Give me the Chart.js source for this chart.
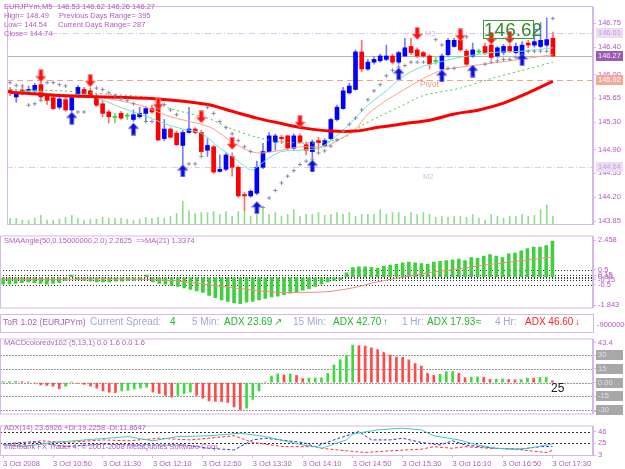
<!DOCTYPE html>
<html lang="en">
<head>
<meta charset="UTF-8">
<title>EURJPYm,M5</title>
<style>
  body { margin: 0; width: 625px; height: 469px; position: relative; overflow: hidden; background: #fff; font-family: "Liberation Sans", Arial, sans-serif; }
  canvas { position: absolute; left: 0; }
  .t { position: absolute; white-space: pre; font-size: 7.5px; line-height: 9px; color: #b05cc0; }
  .b { position: absolute; white-space: pre; font-size: 10px; line-height: 12px; }
</style>
<script src="https://cdn.jsdelivr.net/npm/chart.js@4.4.0/dist/chart.umd.min.js"></script>
</head>
<body>
<canvas id="cMain" width="625" height="231" style="top:0"></canvas>
<canvas id="cSma" width="625" height="84" style="top:230px"></canvas>
<canvas id="cMacd" width="625" height="87" style="top:333px"></canvas>
<canvas id="cAdx" width="625" height="49" style="top:420px"></canvas>

<div class="t" style="left:4px;top:2px">EURJPYm,M5</div>
<div class="t" style="left:57px;top:2px">146.53 146.62 146.26 146.27</div>
<div class="t" style="left:4px;top:11px">High= 148.49</div>
<div class="t" style="left:59px;top:11px">Previous Days Range= 395</div>
<div class="t" style="left:4px;top:20px">Low= 144.54</div>
<div class="t" style="left:58px;top:20px">Current Days Range= 287</div>
<div class="t" style="left:4px;top:29px">Close= 144.74</div>

<div class="t" style="left:425px;top:29px;color:#d8bce6">M3</div>
<div class="t" style="left:420px;top:80px;color:#f29a86;font-size:8.5px">Pivot</div>
<div class="t" style="left:423px;top:172px;color:#d8bce6">M2</div>
<div style="position:absolute;left:483px;top:20px;width:49px;height:17px;border:1px solid #3c9a3c;color:#2f8f2f;font-size:19px;line-height:18px;text-align:center">146.62</div>
<div style="position:absolute;left:533px;top:29px;width:8px;height:1px;background:#3c9a3c"></div>

<div class="t" style="left:4px;top:236px">SMAAngle(50,0.15000000,2.0) 2.2625  =&gt;MA(21) 1.3374</div>

<div style="position:absolute;left:0;top:314px;width:592px;height:17px;border:1px solid #d6b8e6"></div>
<div class="b" style="left:3px;top:316px;color:#a65cb8;font-size:8.5px">ToR 1.02 (EURJPYm)</div>
<div class="b" style="left:90px;top:316px;color:#9fa8d8">Current Spread:</div>
<div class="b" style="left:170px;top:316px;color:#22b822">4</div>
<div class="b" style="left:192px;top:316px;color:#9fa8d8">5 Min:</div>
<div class="b" style="left:224px;top:316px;color:#22b822">ADX 23.69</div>
<div class="b" style="left:274px;top:316px;color:#22b822">↗</div>
<div class="b" style="left:293px;top:316px;color:#9fa8d8">15 Min:</div>
<div class="b" style="left:333px;top:316px;color:#22b822">ADX 42.70</div>
<div class="b" style="left:383px;top:316px;color:#22b822">↑</div>
<div class="b" style="left:402px;top:316px;color:#9fa8d8">1 Hr:</div>
<div class="b" style="left:427px;top:316px;color:#22b822">ADX 17.93</div>
<div class="b" style="left:476px;top:316px;color:#22b822">≈</div>
<div class="b" style="left:495px;top:316px;color:#9fa8d8">4 Hr:</div>
<div class="b" style="left:525px;top:316px;color:#ff2020">ADX 46.60</div>
<div class="b" style="left:575px;top:316px;color:#ff2020">↓</div>
<div class="t" style="left:597px;top:320px">-9000000</div>

<div class="t" style="left:4px;top:338px">MACDcoloredv102 (5,13,1) 0.0 1.6 0.0 1.6</div>
<div class="b" style="left:551px;top:382px;color:#202020;font-size:12px">25</div>

<div class="t" style="left:4px;top:423px">ADX(14) 23.6926 +DI:19.2258 -DI:11.8647</div>
<div class="t" style="left:4px;top:442px">Interbank FX Trader 4, © 2001-2008 MetaQuotes Software Corp.</div>

<script>
// ---- price bars (3 Oct 2008, 5 minute bars from 10:10 to 17:30) ----
const opens  = [145.77,145.67,145.77,145.76,145.76,145.85,145.69,145.66,145.52,145.63,
                145.48,145.69,145.78,145.76,145.66,145.57,145.45,145.38,145.43,145.39,
                145.34,145.38,145.43,145.50,145.52,145.06,145.20,145.14,144.96,145.15,
                145.20,145.15,144.89,144.94,144.58,144.61,144.80,144.64,144.24,144.22,
                144.26,144.64,144.87,145.01,145.08,145.10,144.92,145.10,144.97,144.87,
                145.03,144.96,145.06,145.34,145.50,145.73,145.78,146.33,146.08,146.18,
                146.20,146.22,146.27,146.18,146.27,146.41,146.36,146.32,146.27,146.20,
                146.08,146.29,146.41,146.50,146.34,146.27,146.34,146.41,146.43,146.27,
                146.32,146.41,146.32,146.29,146.46,146.43,146.41,146.43,146.53];
const highs  = [145.81,145.76,145.81,145.83,145.87,145.90,145.71,145.69,145.67,145.66,
                145.69,145.84,145.81,145.80,145.71,145.62,145.48,145.43,145.46,145.43,
                145.48,145.52,145.53,145.55,145.53,145.34,145.22,145.17,145.18,145.52,
                145.22,145.18,145.06,144.96,144.82,144.85,144.85,144.66,144.27,144.31,
                144.73,144.99,145.15,145.13,145.11,145.11,145.13,145.13,145.01,145.04,
                145.08,145.06,145.36,145.55,145.81,145.87,146.36,146.50,146.22,146.26,
                146.30,146.43,146.30,146.34,146.53,146.53,146.39,146.34,146.29,146.25,
                146.30,146.53,146.53,146.53,146.37,146.46,146.37,146.46,146.57,146.41,
                146.44,146.44,146.46,146.48,146.50,146.71,146.76,146.83,146.62];
const lows   = [145.69,145.59,145.70,145.73,145.73,145.64,145.56,145.48,145.49,145.46,
                145.45,145.66,145.69,145.66,145.53,145.38,145.29,145.29,145.34,145.34,
                145.31,145.36,145.32,145.43,145.03,145.03,145.07,144.96,144.68,145.14,
                145.13,144.83,144.80,144.55,144.57,144.59,144.51,144.20,144.01,144.20,
                144.24,144.62,144.86,144.89,144.99,144.90,144.90,144.99,144.82,144.78,
                144.89,144.94,145.04,145.32,145.49,145.71,145.77,146.04,146.06,146.15,
                146.18,146.20,146.15,146.15,146.26,146.29,146.25,146.25,146.08,146.15,
                146.06,146.26,146.40,146.34,146.13,146.25,146.30,146.29,146.22,146.25,
                146.29,146.32,146.30,146.27,146.39,146.40,146.39,146.40,146.26];
const closes = [145.73,145.73,145.74,145.78,145.84,145.67,145.62,145.50,145.64,145.48,
                145.66,145.81,145.71,145.69,145.55,145.43,145.38,145.37,145.36,145.39,
                145.41,145.43,145.50,145.45,145.04,145.20,145.08,144.97,145.15,145.20,
                145.15,144.87,144.96,144.57,144.61,144.82,144.64,144.22,144.22,144.29,
                144.64,144.87,145.10,145.10,145.06,144.92,145.10,145.01,144.89,145.01,
                145.00,145.03,145.34,145.52,145.76,145.83,146.33,146.08,146.18,146.22,
                146.27,146.27,146.18,146.32,146.39,146.32,146.27,146.27,146.15,146.19,
                146.27,146.50,146.50,146.36,146.15,146.36,146.33,146.32,146.25,146.39,
                146.41,146.34,146.41,146.43,146.43,146.48,146.50,146.51,146.27];
const volumes = [60,60,40,40,60,90,40,40,50,70, 90,60,40,50,50,70,60,60,60,50,
                 40,50,70,60,70,60,80,110,240,140, 110,120,120,130,100,130,80,130,150,80,
                 120,150,100,120,80,100,150,80,100,100, 120,90,100,120,100,120,80,100,100,100,
                 150,100,120,120,80,120,100,120,100,70, 80,70,80,80,70,100,60,40,100,80,
                 60,80,80,100,80,90,150,200,80];

// moving averages on the price chart, read at these bar indices
const maSlowIdx = [0,8,16,24,32,36,40,44,48,52,56,60,64,68,72,76,80,84,88];
const maSlowVal = [145.74,145.69,145.67,145.64,145.56,145.46,145.36,145.28,145.21,145.17,145.17,145.23,145.28,145.33,145.42,145.48,145.58,145.73,145.90];
const maFastIdx = [0,4,8,12,14,19,22,25,28,31,34,36,39,40,42,44,47,50,52,55,58,61,63,65,67,70,73,78,83,88];
const maFastVal = [145.73,145.76,145.69,145.71,145.66,145.48,145.39,145.28,145.20,145.14,144.92,144.80,144.60,144.64,144.78,144.87,144.89,144.92,145.03,145.27,145.55,145.76,145.92,146.04,146.12,146.19,146.25,146.32,146.34,146.39];
const maMidIdx  = [0,8,14,21,26,31,33,36,39,41,44,47,51,53,56,58,61,63,67,70,75,81,88];
const maMidVal  = [145.74,145.71,145.67,145.55,145.38,145.27,145.20,145.01,144.87,144.85,144.89,144.94,144.94,145.03,145.20,145.42,145.62,145.73,145.94,146.06,146.13,146.20,146.29];
const maDashIdx = [0,8,16,22,26,32,36,40,44,50,54,57,60,63,67,73,78,83,88];
const maDashVal = [145.78,145.76,145.71,145.66,145.50,145.36,145.20,145.08,145.01,145.00,145.07,145.25,145.39,145.52,145.69,145.80,145.94,146.06,146.18];

const sar = [145.88,145.84,145.83,145.55,145.57,145.62,145.88,145.88,145.85,145.83,
             null,145.45,145.45,145.84,145.80,145.78,145.73,145.69,145.64,145.62,
             145.57,null,145.31,145.31,145.62,145.56,145.48,145.41,null,144.69,
             144.69,144.80,145.52,145.43,145.31,145.22,145.13,145.03,144.94,144.87,
             144.05,144.05,144.19,144.30,144.41,144.51,144.59,144.68,144.73,144.76,
             144.85,144.88,144.95,145.04,145.17,145.27,145.36,145.48,145.63,145.76,
             145.85,145.98,146.06,146.11,146.13,146.18,146.18,146.18,null,146.51,
             146.43,146.09,146.09,146.56,146.55,null,null,146.15,146.18,146.20,
             146.22,146.22,146.25,null,146.34,146.34,146.34,146.34,146.82];

const sellIdx = [5,13,24,31,36,47,66,73,78,81];
const sellVal = [145.98,145.91,145.57,145.38,144.99,145.31,146.60,146.58,146.53,146.54];
const buyIdx  = [10,20,28,40,49,63,70,75,83];
const buyVal  = [145.36,145.20,144.59,144.05,144.66,146.01,145.98,146.05,146.22];

const priceTicks = [146.75,146.40,146.00,145.65,145.30,144.90,144.55,144.20,143.85];
const priceLevels = { m3: 146.61, bid: 146.27, pivot: 145.92, m2: 144.64 };

// ---- SMAAngle window ----
const smaAngle = [-0.45,-0.45,-0.4,-0.35,-0.3,-0.35,-0.4,-0.45,-0.4,-0.35,
                  -0.2,0.15,-0.15,-0.2,-0.25,-0.3,-0.3,-0.3,-0.25,-0.25,
                  -0.2,-0.2,-0.15,0.15,-0.3,-0.4,-0.45,-0.55,-0.6,-0.7,
                  -0.8,-0.9,-1.0,-1.2,-1.35,-1.5,-1.6,-1.7,-1.75,-1.65,
                  -1.6,-1.5,-1.4,-1.3,-1.25,-1.15,-1.05,-0.95,-0.85,-0.75,
                  -0.6,-0.45,-0.3,-0.2,-0.15,0.3,0.65,0.7,0.7,0.65,
                  0.6,0.75,0.8,0.85,0.95,1.0,0.95,0.9,0.85,1.0,
                  1.05,1.1,1.15,1.2,1.1,1.3,1.25,1.4,1.5,1.4,
                  1.3,1.55,1.6,1.75,1.9,2.0,2.0,2.1,2.4];
const smaMaIdx = [0,8,16,24,28,32,36,40,44,48,52,56,60,64,68,72,76,80,84,88];
const smaMaVal = [-0.15,-0.15,-0.1,-0.15,-0.25,-0.45,-0.65,-0.85,-1.0,-1.0,-0.95,-0.7,-0.3,0.0,0.3,0.5,0.75,0.95,1.15,1.34];
const smaTickVals = [2.458,0.5,0.15,0,-0.15,-0.5,-1.843];
const smaTickText = ['2.458','0.5','0.15','0.00','-0.15','-0.5','-1.843'];
const smaLevels = [0.5,0.15,0.05,-0.05,-0.15,-0.5];

// ---- MACD window ----
const macd = [1.0,1.2,1.5,1.0,0.5,-1,-2.5,-3,-4,-7,
              -4,0.5,-1,-2,-4,-6,-9,-10.5,-11,-9,
              -8.5,-7,-6,-5,-10.5,-12,-14,-16,-14,-12,
              -10.5,-14,-17,-20,-20.5,-21,-22,-26.5,-30,-28,
              -18.5,-9,0.5,7,9.6,8.6,9.6,8.0,4.5,4.8,
              5.0,5.2,10,19,25,30,41,40.5,40,38,
              36,33,30,28,27.5,25,21,18,10,8,
              9,12,12.2,10,5.5,6,6.3,6,3.5,3.8,
              4.0,3.5,3.0,3.4,5.0,4.8,5.8,6.0,2.0];
const macdTickVals = [43.4,30,15,0,-15,-30,-31.8];
const macdTickText = ['43.4','30','15','0.00','-15','-30','-31.8'];
const macdLevels = [30,15,0,-15,-30];

// ---- ADX window ----
const adxIdx = [0,3,5,8,20,24,28,33,38,42,48,50,51,55,56,60,64,67,69,73,76,79,82,84,88];
const adxVal = [23.5,18.8,21.9,26.5,37.3,29.6,37.3,38.8,43.5,37.3,21.9,18.8,15.8,31.2,42,49.6,52.7,49.6,38.8,31.2,21.9,15.8,14.2,15.8,23.69];
const pdiIdx = [0,3,5,10,16,21,29,33,37,40,42,48,50,53,57,59,62,64,67,70,72,74,79,83,86,88];
const pdiVal = [23.5,26.5,28,18.8,23.5,21.9,21.9,15.8,12.7,31.2,34.2,26.5,18.8,31.2,46.5,31.2,31.2,34.2,26.5,21.9,29.6,21.9,15.8,14.2,18.8,19.23];
const mdiIdx = [0,3,6,10,16,20,25,30,37,40,45,50,51,55,58,62,67,69,72,74,78,82,87,88];
const mdiVal = [21.9,21.9,29.6,26.5,31.2,29.6,34.2,31.2,38.8,26.5,18.8,18.8,15.8,11.2,8.1,11.2,14.2,18.8,15.8,18.8,15.8,14.2,8.1,11.86];
const adxTickVals = [46,25,3];
const adxLevels = [45,25];

const timeTicks = ['3 Oct 2008','3 Oct 10:50','3 Oct 11:30','3 Oct 12:10','3 Oct 12:50','3 Oct 13:30',
                   '3 Oct 14:10','3 Oct 14:50','3 Oct 15:30','3 Oct 16:10','3 Oct 16:50','3 Oct 17:30'];

// ---- layout helpers ----
const SLOTS = 95;               // 89 bars plus the empty chart shift on the right
const labels = [];
for (let i = 0; i < SLOTS; i++) labels.push(i);
const lav = '#d6b8e6';
const txt = '#b05cc0';
const tickFont = { family: 'Liberation Sans', size: 7.5 };

function sparse(idx, vals) {
    const out = new Array(SLOTS).fill(null);
    idx.forEach((k, j) => { out[k] = vals[j]; });
    return out;
}

function arrow(color, edge, up) {
    const c = document.createElement('canvas');
    c.width = 11; c.height = 13;
    const g = c.getContext('2d');
    g.fillStyle = color; g.strokeStyle = edge; g.lineWidth = 1;
    g.beginPath();
    if (up) {
        g.moveTo(5.5, 0.5); g.lineTo(10.5, 6); g.lineTo(7.5, 6); g.lineTo(7.5, 12.5);
        g.lineTo(3.5, 12.5); g.lineTo(3.5, 6); g.lineTo(0.5, 6);
    } else {
        g.moveTo(5.5, 12.5); g.lineTo(10.5, 7); g.lineTo(7.5, 7); g.lineTo(7.5, 0.5);
        g.lineTo(3.5, 0.5); g.lineTo(3.5, 7); g.lineTo(0.5, 7);
    }
    g.closePath(); g.fill(); g.stroke();
    return c;
}

// level lines under the marks, frame and value boxes on top
const levelsPlugin = {
    id: 'levels',
    beforeDatasetsDraw(chart, args, opts) {
        const { ctx, chartArea: a } = chart;
        const ys = chart.scales.y;
        (opts.lines || []).forEach(l => {
            const y = Math.round(ys.getPixelForValue(l.v)) + 0.5;
            ctx.save();
            ctx.strokeStyle = l.color; ctx.lineWidth = 1; ctx.setLineDash(l.dash || []);
            ctx.beginPath(); ctx.moveTo(a.left, y); ctx.lineTo(a.right, y); ctx.stroke();
            ctx.restore();
        });
    },
    afterDraw(chart, args, opts) {
        const { ctx, chartArea: a } = chart;
        const ys = chart.scales.y;
        ctx.save();
        ctx.strokeStyle = lav; ctx.lineWidth = 1;
        ctx.strokeRect(a.left + 0.5, a.top - 0.5, a.right - a.left - 1, a.bottom - a.top + 1);
        ctx.font = '7.5px "Liberation Sans"';
        ctx.textBaseline = 'middle';
        (opts.boxes || []).forEach(b => {
            const y = Math.round(ys.getPixelForValue(b.v));
            ctx.fillStyle = b.bg; ctx.fillRect(a.right + 3, y - 5, 27, 10);
            ctx.fillStyle = b.fg; ctx.fillText(b.text, a.right + 5, y);
        });
        ctx.restore();
    }
};

function yAxis(min, max, vals, texts) {
    return {
        position: 'right', min, max,
        afterFit: s => { s.width = 32; },
        afterBuildTicks: s => { s.ticks = vals.map(v => ({ value: v })); },
        ticks: { autoSkip: false, padding: 2, color: txt, font: tickFont,
                 callback: (v, i) => texts ? texts[i] : Number(v).toFixed(2) },
        grid: { drawOnChartArea: false, tickLength: 3, color: lav },
        border: { color: lav }
    };
}

const common = {
    responsive: false, animation: false,
    plugins: { legend: { display: false }, tooltip: { enabled: false } }
};

// ---- main price window ----
const bullWick = '#7a7aff', bearWick = '#ff7070';
const isDoji = i => Math.abs(closes[i] - opens[i]) < 0.015;
const bodyCol = opens.map((o, i) => isDoji(i) ? '#33cc33' : (closes[i] > o ? '#0000ff' : '#ff0000'));
const wickCol = opens.map((o, i) => isDoji(i) ? '#66dd66' : (closes[i] > o ? bullWick : bearWick));

new Chart(document.getElementById('cMain'), {
    type: 'bar',
    data: {
        labels,
        datasets: [
            { label: 'Buy', type: 'line', data: sparse(buyIdx, buyVal), showLine: false,
              pointStyle: arrow('#1010d0', '#7a7aff', true), pointRadius: 6, order: 0 },
            { label: 'Sell', type: 'line', data: sparse(sellIdx, sellVal), showLine: false,
              pointStyle: arrow('#ff1010', '#ff8080', false), pointRadius: 6, order: 0 },
            { label: 'SAR', type: 'line', data: sar, showLine: false, pointStyle: 'cross',
              pointRadius: 2, pointBorderColor: '#8888b0', pointBorderWidth: 1, order: 1 },
            { label: 'MA slow', type: 'line', data: sparse(maSlowIdx, maSlowVal), borderColor: '#ff0000',
              borderWidth: 3, pointRadius: 0, spanGaps: true, tension: 0.3, order: 2 },
            { label: 'MA fast', type: 'line', data: sparse(maFastIdx, maFastVal), borderColor: '#6fe3d2',
              borderWidth: 1, pointRadius: 0, spanGaps: true, tension: 0.3, order: 3 },
            { label: 'MA mid', type: 'line', data: sparse(maMidIdx, maMidVal), borderColor: '#ff9f80',
              borderWidth: 1, pointRadius: 0, spanGaps: true, tension: 0.3, order: 3 },
            { label: 'MA dash', type: 'line', data: sparse(maDashIdx, maDashVal), borderColor: '#3ccc3c',
              borderWidth: 1, borderDash: [2, 3], pointRadius: 0, spanGaps: true, tension: 0.3, order: 3 },
            { label: 'Body', data: opens.map((o, i) => [o, closes[i]]), backgroundColor: bodyCol,
              barThickness: 4, minBarLength: 1, grouped: false, order: 4 },
            { label: 'Wick', data: lows.map((l, i) => [l, highs[i]]), backgroundColor: wickCol,
              barThickness: 1, grouped: false, order: 5 },
            { label: 'Volume', data: volumes, yAxisID: 'yVol', backgroundColor: '#8fdf8f',
              barThickness: 1, grouped: false, order: 6 }
        ]
    },
    options: {
        ...common,
        layout: { padding: { top: 2, bottom: 2, left: 0, right: 0 } },
        plugins: {
            ...common.plugins,
            levels: {
                lines: [
                    { v: priceLevels.m3, color: '#e2c8ee', dash: [6, 2, 1, 2] },
                    { v: priceLevels.bid, color: '#b4b4b4' },
                    { v: priceLevels.pivot, color: '#f4a090', dash: [6, 4] },
                    { v: priceLevels.m2, color: '#e2c8ee', dash: [6, 2, 1, 2] }
                ],
                boxes: [
                    { v: priceLevels.m3, text: '146.61', bg: '#ecdcf4', fg: '#c8a4d8' },
                    { v: priceLevels.bid, text: '146.27', bg: '#9a5cb0', fg: '#f4e8fa' },
                    { v: priceLevels.pivot, text: '145.92', bg: '#f6a898', fg: '#ffffff' },
                    { v: priceLevels.m2, text: '144.64', bg: '#ecdcf4', fg: '#c8a4d8' }
                ]
            }
        },
        scales: {
            x: { display: false, offset: true },
            y: yAxis(143.809, 146.988, priceTicks, null),
            yVol: { display: false, min: 0, max: 2270 }
        }
    },
    plugins: [levelsPlugin]
});

// ---- SMAAngle window ----
new Chart(document.getElementById('cSma'), {
    type: 'bar',
    data: {
        labels,
        datasets: [
            { label: 'MA(21)', type: 'line', data: sparse(smaMaIdx, smaMaVal), borderColor: '#f08a80',
              borderWidth: 1, pointRadius: 0, spanGaps: true, tension: 0.3, order: 0 },
            { label: 'SMAAngle', data: smaAngle, backgroundColor: '#3fcf3f', barThickness: 3, order: 1 }
        ]
    },
    options: {
        ...common,
        layout: { padding: { top: 1, bottom: 2, left: 0, right: 0 } },
        plugins: { ...common.plugins,
            levels: { lines: smaLevels.map(v => ({ v, color: '#303030', dash: [1, 2] })) } },
        scales: { x: { display: false, offset: true }, y: yAxis(-2.0, 2.70, smaTickVals, smaTickText) }
    },
    plugins: [levelsPlugin]
});

// ---- MACD window ----
const macdCol = macd.map((v, i) => (i === 0 || v >= macd[i - 1]) ? '#3ed83e' : '#ff4a4a');
new Chart(document.getElementById('cMacd'), {
    type: 'bar',
    data: {
        labels,
        datasets: [
            { label: 'Signal', type: 'line', data: macd, borderColor: '#cfcfcf', borderWidth: 1,
              borderDash: [1, 2], pointRadius: 0, order: 0 },
            { label: 'MACD', data: macd, backgroundColor: macdCol, barThickness: 2, order: 1 }
        ]
    },
    options: {
        ...common,
        layout: { padding: { top: 1, bottom: 1, left: 0, right: 0 } },
        plugins: { ...common.plugins,
            levels: {
                lines: macdLevels.map(v => ({ v, color: '#9a9a9a', dash: [2, 1] })),
                boxes: macdLevels.map(v => ({ v, text: v === 0 ? '0.00' : String(v), bg: '#a8a8a8', fg: '#e8d8f0' }))
            } },
        scales: { x: { display: false, offset: true }, y: yAxis(-33.8, 47.1, macdTickVals, macdTickText) }
    },
    plugins: [levelsPlugin]
});

// ---- ADX window with the time axis ----
new Chart(document.getElementById('cAdx'), {
    type: 'line',
    data: {
        labels,
        datasets: [
            { label: 'ADX', data: sparse(adxIdx, adxVal), borderColor: '#45c8c0', borderWidth: 1,
              pointRadius: 0, spanGaps: true },
            { label: '+DI', data: sparse(pdiIdx, pdiVal), borderColor: '#3030e0', borderWidth: 1,
              borderDash: [3, 2], pointRadius: 0, spanGaps: true },
            { label: '-DI', data: sparse(mdiIdx, mdiVal), borderColor: '#ff3030', borderWidth: 1,
              borderDash: [3, 2], pointRadius: 0, spanGaps: true }
        ]
    },
    options: {
        ...common,
        layout: { padding: { top: 1, bottom: 0, left: 0, right: 0 } },
        plugins: { ...common.plugins,
            levels: { lines: adxLevels.map(v => ({ v, color: '#303030', dash: [2, 2] })) } },
        scales: {
            x: {
                offset: true,
                afterFit: s => { s.height = 14; },
                grid: { drawOnChartArea: false, offset: false, tickLength: 3,
                        tickColor: c => (c.index % 8 === 0 ? lav : 'rgba(0,0,0,0)') },
                border: { color: lav },
                ticks: { autoSkip: false, maxRotation: 0, align: 'start', padding: 1, color: txt, font: tickFont,
                         callback: (v, i) => (i % 8 === 0 && timeTicks[i / 8]) ? timeTicks[i / 8] : '' }
            },
            y: yAxis(3.5, 55.8, adxTickVals, ['46', '25', '3'])
        }
    },
    plugins: [levelsPlugin]
});
</script>
</body>
</html>
